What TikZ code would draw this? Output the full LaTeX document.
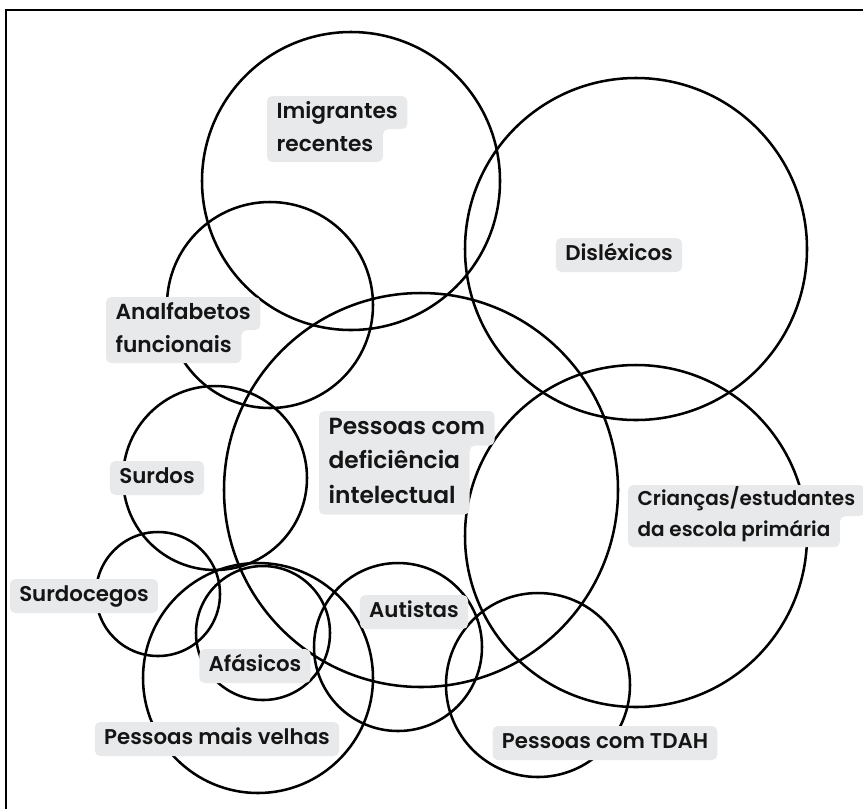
\documentclass[tikz,border=0pt]{standalone}
\usepackage{fontspec}
\setmainfont{Poppins}[UprightFont=* SemiBold]
\usetikzlibrary{positioning}
\definecolor{chipgray}{HTML}{E8E9EB}
\definecolor{ink}{HTML}{151515}
\pgfdeclarelayer{rings}
\pgfdeclarelayer{chips}
\pgfsetlayers{rings,chips,main}
\tikzset{
  ring/.style={circle, draw=black, line width=1.9pt, inner sep=0pt, minimum size=#1*1.5pt},
  tag/.style={fill=chipgray, rounded corners=4pt, text=ink, font=\fontsize{16pt}{20pt}\selectfont,
    inner xsep=7pt, inner ysep=4.7pt, text height=12.2pt, text depth=3.9pt},
  chipline/.style={text=ink, font=\fontsize{16.3pt}{20pt}\selectfont,
    inner xsep=7pt, inner ysep=4pt, text height=12.4pt, text depth=4pt},
  chip/.style={fill=chipgray, rounded corners=4pt},
}

\begin{document}
\begin{tikzpicture}[x=0.75pt,y=-0.75pt]
\useasboundingbox (0,0) rectangle (863,808);
% page frame (cut off right and below)
\draw[line width=1.5pt] (6,840) -- (6,10) -- (880,10);

\begin{pgfonlayer}{rings}
\node[ring=149] (imig) at (351,181) {};
\node[ring=171] (disl) at (636,249) {};
\node[ring=103] (analf) at (270,305) {};
\node[ring=197] (defic) at (421,490) {};
\node[ring=171] (crian) at (636,536) {};
\node[ring=92] (surdos) at (215,478) {};
\node[ring=62] (surdoc) at (158,594) {};
\node[ring=67] (afas) at (263,633) {};
\node[ring=115] (velhas) at (258,678) {};
\node[ring=84] (autis) at (398,647) {};
\node[ring=92] (tdah) at (538,685) {};
\end{pgfonlayer}

% one-line labels
\node[tag] (dislT) at (619,255) {Disléxicos};
\node[tag] (surdosT) at (157,478) {Surdos};
\node[tag] (autisT) at (414,612) {Autistas};
\node[tag] (afasT) at (255,666) {Afásicos};
\node[tag] (surdocT) at (84,596) {Surdocegos};
\node[tag] (velhasT) at (217,739) {Pessoas mais velhas};
\node[tag] (tdahT) at (605,743) {Pessoas com TDAH};

% labels on several lines
\node[chipline, anchor=north west] (imA) at (267,96) {Imigrantes};
\node[chipline, below=0pt of imA.south west, anchor=north west] (imB) {recentes};

\node[chipline, anchor=north west] (anA) at (106,297) {Analfabetos};
\node[chipline, below=0pt of anA.south west, anchor=north west] (anB) {funcionais};

\node[chipline, anchor=north west, font=\fontsize{17.5pt}{21pt}\selectfont,
  text height=13.3pt, text depth=4.2pt] (deA) at (319,411) {Pessoas com};
\node[chipline, below=0pt of deA.south west, anchor=north west, font=\fontsize{17.5pt}{21pt}\selectfont,
  text height=13.3pt, text depth=4.2pt] (deB) {deficiência};
\node[chipline, below=0pt of deB.south west, anchor=north west, font=\fontsize{17.5pt}{21pt}\selectfont,
  text height=13.3pt, text depth=4.2pt] (deC) {intelectual};

\node[chipline, anchor=north west, font=\fontsize{15pt}{19pt}\selectfont,
  text height=11.6pt, text depth=3.7pt, inner ysep=3.8pt] (crA) at (628,485) {Crianças/estudantes};
\node[chipline, below=0pt of crA.south west, anchor=north west, font=\fontsize{15pt}{19pt}\selectfont,
  text height=11.6pt, text depth=3.7pt, inner ysep=3.8pt] (crB) {da escola primária};

\begin{pgfonlayer}{chips}
\fill[chip] (imA.north west) -| (imA.south east) -| (imB.south east) -- (imB.south west) -- cycle;
\fill[chip] (anA.north west) -| (anA.south east) -| (anB.south east) -- (anB.south west) -- cycle;
\fill[chip] (deA.north west) -| (deA.south east) -| (deC.south -| deB.east) -- (deC.south west) -- cycle;
\fill[chip] (crA.north west) -| (crA.south east) -| (crB.south east) -- (crB.south west) -- cycle;
\end{pgfonlayer}
\end{tikzpicture}
\end{document}
